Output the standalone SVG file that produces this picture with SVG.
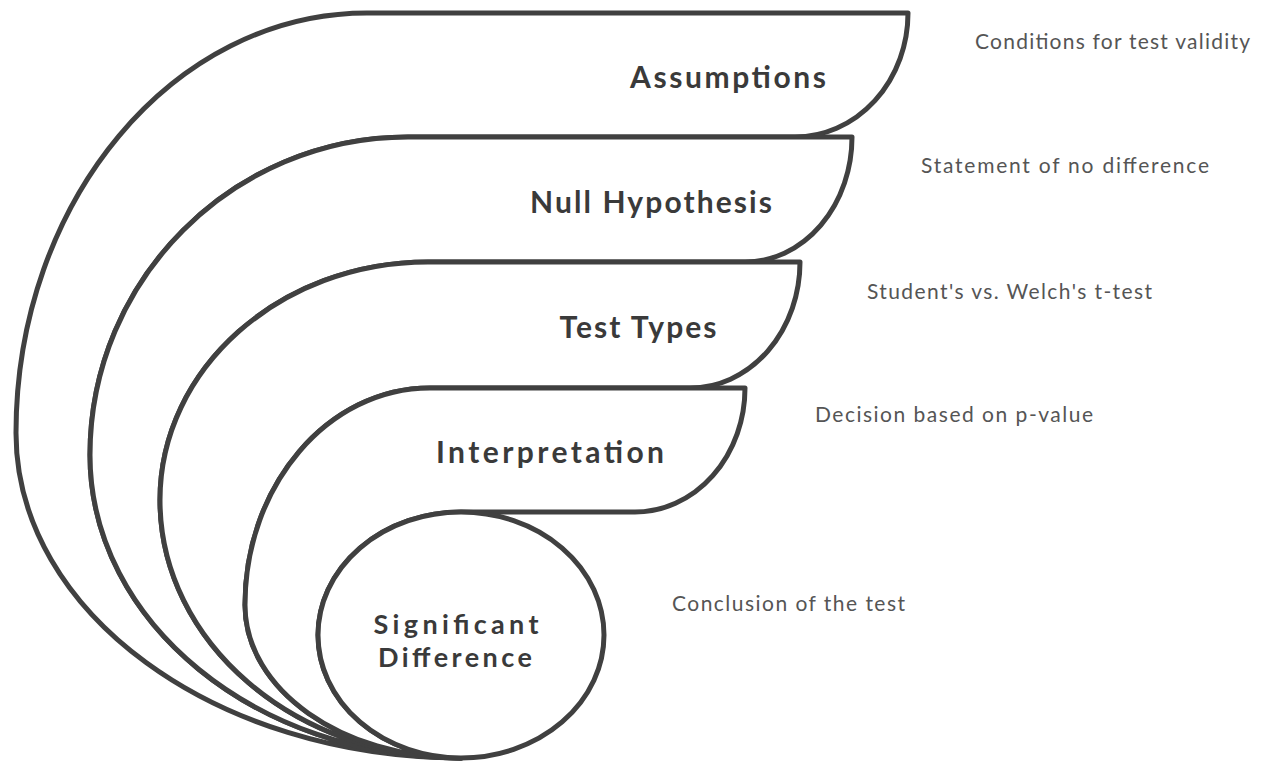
<svg xmlns="http://www.w3.org/2000/svg" width="1270" height="764" viewBox="0 0 1270 764">
<style>
.shape{fill:#fff;stroke:#404040;stroke-width:5;stroke-linejoin:round;stroke-linecap:round}
.title{font-family:"Lato","Liberation Sans",sans-serif;font-weight:bold;font-size:30px;fill:#3a3a3a;text-anchor:middle}
.small{font-size:27px}
.desc{font-family:"Lato","Liberation Sans",sans-serif;font-size:21px;fill:#555}
</style>
<rect width="1270" height="764" fill="#fff"/>
<g id="assumptions">
<path class="shape" d="M367 13 L908 13 A113 124 0 0 1 795 137 L408 137 C232.5 137 90 279.5 90 455 C90 622.3 256.2 758 461 758 C215.4 758 16 612.4 16 433 C16 201.2 173.2 13 367 13 Z"/>
<text class="title" x="728" y="88" textLength="196">Assumptions</text>
<text class="desc" x="975" y="49" textLength="275">Conditions for test validity</text>
</g>
<g id="null-hypothesis">
<path class="shape" d="M408 137 L852 137 A107 125 0 0 1 745 262 L428 262 C280.1 262 160 368.6 160 500 C160 642.4 294.8 758 461 758 C256.2 758 90 622.3 90 455 C90 279.5 232.5 137 408 137 Z"/>
<text class="title" x="651" y="213" textLength="242">Null Hypothesis</text>
<text class="desc" x="921" y="173" textLength="288">Statement of no difference</text>
</g>
<g id="test-types">
<path class="shape" d="M428 262 L800 262 A110 126 0 0 1 690 388 L430 388 C327.9 388 245 485.2 245 605 C245 689.5 341.8 758 461 758 C294.8 758 160 642.4 160 500 C160 368.6 280.1 262 428 262 Z"/>
<text class="title" x="638" y="338" textLength="157">Test Types</text>
<text class="desc" x="867" y="299" textLength="285">Student's vs. Welch's t-test</text>
</g>
<g id="interpretation">
<path class="shape" d="M430 388 L745 388 A110 124 0 0 1 635 512 L461 512 A143 123 0 0 0 461 758 C341.8 758 245 689.5 245 605 C245 485.2 327.9 388 430 388 Z"/>
<text class="title" x="550" y="463" textLength="228">Interpretation</text>
<text class="desc" x="815" y="422" textLength="278">Decision based on p-value</text>
</g>
<g id="significant-difference">
<ellipse class="shape" cx="461" cy="635" rx="143" ry="123"/>
<text class="title small" x="456" y="634" textLength="165">Significant</text>
<text class="title small" x="455" y="667" textLength="154">Difference</text>
<text class="desc" x="672" y="611" textLength="233">Conclusion of the test</text>
</g>
<g id="connectors"></g>
</svg>
